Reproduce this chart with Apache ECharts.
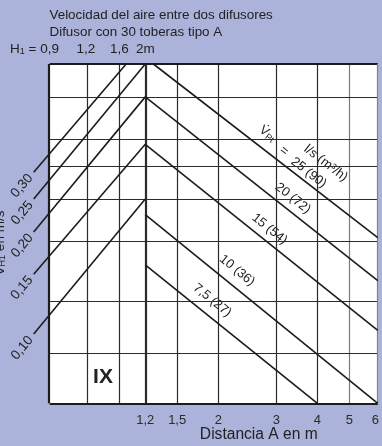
<!DOCTYPE html>
<html>
<head>
<meta charset="utf-8">
<script src="https://cdn.jsdelivr.net/npm/echarts@6/dist/echarts.min.js"></script>
<style>
  html, body { margin: 0; padding: 0; background: #abb3db; }
  #grafico { width: 382px; height: 446px; }
</style>
</head>
<body>
<div id="grafico"></div>
<script>
// Distancia A (m) en eje logarítmico: marcas rotuladas y líneas de rejilla
const distanciaMarcas = [1.2, 1.5, 2, 3, 4, 5, 6];
const distanciaRejilla = [0.8, 1.0, 1.2, 1.5, 2, 3, 4, 5];
// Velocidad vH1 (m/s) en eje logarítmico: líneas de rejilla
const velocidadRejilla = [0.07, 0.1, 0.15, 0.2, 0.25, 0.3, 0.4];

// Rectas ascendentes de velocidad: [A, v] inicial y final
const velocidadRotulos = ['0,30', '0,25', '0,20', '0,15', '0,10'];
const rectaV030 = [[0.55, 0.24], [1.05, 0.5]];
const rectaV025 = [[0.55, 0.20], [1.2, 0.5]];
const rectaV020 = [[0.55, 0.16], [1.2, 0.4]];
const rectaV015 = [[0.55, 0.12], [1.2, 0.29]];
const rectaV010 = [[0.55, 0.08], [1.2, 0.2]];

// Rectas descendentes de caudal por tobera V̇Pt: l/s (m³/h)
const caudalRotulos = ['25 (90)', '20 (72)', '15 (54)', '10 (36)', '7,5 (27)'];
const rectaQ25 = [[1.27, 0.5], [6.1, 0.154]];
const rectaQ20 = [[1.2, 0.4], [6.1, 0.115]];
const rectaQ15 = [[1.2, 0.29], [6.1, 0.082]];
const rectaQ10 = [[1.2, 0.18], [6.1, 0.05]];
const rectaQ75 = [[1.2, 0.128], [4.0, 0.05]];

const rectasV = [rectaV030, rectaV025, rectaV020, rectaV015, rectaV010];
const rectasQ = [rectaQ25, rectaQ20, rectaQ15, rectaQ10, rectaQ75];

const FUENTE = '"Liberation Sans", Arial, Helvetica, sans-serif';
const TINTA = '#1c1c1c';
// Ábaco: A de 0,615 a 6,1 m; v de 0,05 a 0,5 m/s. El eje X se prolonga a la
// izquierda para que las rectas de velocidad lleguen hasta sus rótulos.
const A_BORDE = 0.615, X_MIN = 0.5, X_MAX = 6.1, Y_MIN = 0.05, Y_MAX = 0.5;
const PX_DECADA = 332.8, BORDE_IZQ = 50, BORDE_DER = 381.5;
const gridLeft = BORDE_IZQ - PX_DECADA * Math.log10(A_BORDE / X_MIN);

const chart = echarts.init(document.getElementById('grafico'), null, { renderer: 'canvas' });

function recta(nombre, puntos) {
  return {
    type: 'line', name: nombre, data: puntos, symbol: 'none',
    clip: true, silent: true, animation: false, z: 5,
    lineStyle: { color: TINTA, width: 1.6 }
  };
}

const lineaRejilla = (ancho, color) => ({ color: color || '#2b2b2b', width: ancho, type: 'solid' });
const segmento = (a, b, estilo) => [{ coord: a, lineStyle: estilo }, { coord: b }];
const grosorVertical = a => (a === 1.2 ? 2.2 : 1.2);
const colorVertical = a => (a === 5 ? '#7a7a7a' : '#2b2b2b');

const rejilla = {
  type: 'line', name: 'rejilla', data: [], silent: true, z: 1, animation: false,
  markArea: {
    silent: true, itemStyle: { color: '#ffffff' },
    data: [[{ coord: [A_BORDE, Y_MIN] }, { coord: [X_MAX, Y_MAX] }]]
  },
  markLine: {
    symbol: 'none', silent: true, animation: false, label: { show: false },
    data: [
      ...distanciaRejilla.map(a => ({ xAxis: a, lineStyle: lineaRejilla(grosorVertical(a), colorVertical(a)) })),
      ...velocidadRejilla.map(v => segmento([A_BORDE, v], [X_MAX, v], lineaRejilla(1.2))),
      segmento([A_BORDE, Y_MAX], [X_MAX, Y_MAX], lineaRejilla(2.2, TINTA)),
      segmento([A_BORDE, Y_MIN], [X_MAX, Y_MIN], lineaRejilla(2.2, TINTA)),
      { xAxis: A_BORDE, lineStyle: lineaRejilla(2.2, TINTA) },
      { xAxis: X_MAX, lineStyle: lineaRejilla(1.2, '#808080') }
    ]
  }
};

chart.setOption({
  animation: false,
  backgroundColor: '#abb3db',
  grid: { left: gridLeft, top: 64, width: BORDE_DER - gridLeft, height: 339.3, show: false },
  xAxis: {
    type: 'log', min: X_MIN, max: X_MAX, logBase: 10,
    splitLine: { show: false }, axisTick: { show: false }, axisLine: { show: false },
    axisLabel: {
      customValues: distanciaMarcas, margin: 11, color: '#2a2a2a',
      fontFamily: FUENTE, fontSize: 13,
      formatter: v => String(+v.toFixed(2)).replace('.', ',')
    }
  },
  yAxis: {
    type: 'log', min: Y_MIN, max: Y_MAX, logBase: 10,
    splitLine: { show: false }, axisTick: { show: false }, axisLabel: { show: false },
    axisLine: { show: false }
  },
  series: [
    rejilla,
    ...rectasV.map((r, i) => recta('v ' + velocidadRotulos[i], r)),
    ...rectasQ.map((r, i) => recta('q ' + caudalRotulos[i], r))
  ]
});

// Rótulos: se colocan sobre las rectas dibujadas, a partir de sus píxeles
const px = p => chart.convertToPixel({ gridIndex: 0 }, p);
function puntoEnRecta(r, A) {
  const [[a0, v0], [a1, v1]] = r;
  const t = Math.log(A / a0) / Math.log(a1 / a0);
  return [A, v0 * Math.pow(v1 / v0, t)];
}

const graficos = [];
function texto(x, y, rot, contenido, tam, extra) {
  graficos.push({
    type: 'text', x: x, y: y, rotation: rot, z: 3, silent: true,
    style: Object.assign({
      text: contenido, fill: '#222', font: tam + 'px ' + FUENTE,
      align: 'center', verticalAlign: 'middle'
    }, extra || {})
  });
}

// Rótulos inclinados de las rectas de velocidad, en la prolongación de cada recta
rectasV.forEach((r, i) => {
  const p0 = px(r[0]), p1 = px(r[1]);
  const dx = p0[0] - p1[0], dy = p0[1] - p1[1];
  const L = Math.hypot(dx, dy);
  const ang = Math.atan2(-(p1[1] - p0[1]), p1[0] - p0[0]);
  texto(p0[0] + dx / L * 18, p0[1] + dy / L * 18, ang, velocidadRotulos[i], 13.5);
});

// Rótulos de caudal, paralelos a cada recta descendente
function rotuloCaudal(r, A, d, contenido, tam, extra) {
  const p0 = px(r[0]), p1 = px(r[1]);
  const ang = Math.atan2(p1[1] - p0[1], p1[0] - p0[0]);
  const p = px(puntoEnRecta(r, A));
  const nx = Math.sin(ang), ny = -Math.cos(ang);
  texto(p[0] + nx * d, p[1] + ny * d, -ang, contenido, tam, extra);
}
const fondo = { backgroundColor: '#fff', padding: [0, 1] };
const ubicacion = [[3.62, 9], [3.2, 12], [2.72, 11.5], [2.14, 14.5], [1.8, 14.3]];
rectasQ.forEach((r, i) => rotuloCaudal(r, ubicacion[i][0], ubicacion[i][1], caudalRotulos[i], 13, fondo));
rotuloCaudal(rectaQ25, 3.78, 27, 'l/s (m³/h)', 13, fondo);
rotuloCaudal(rectaQ25, 3.02, 11, '=', 13, fondo);
const sub = tam => ({
  v: { fontSize: tam, fontFamily: FUENTE, fill: '#222' },
  s: { fontSize: 9, fontFamily: FUENTE, fill: '#222', verticalAlign: 'bottom', padding: [5, 0, 0, 0] }
});
rotuloCaudal(rectaQ25, 2.65, 14.7, '{v|V̇}{s|Pt}', 13, Object.assign({ rich: sub(13) }, fondo));

// Títulos y rótulos fijos
const izq = { align: 'left', verticalAlign: 'middle' };
texto(49.5, 15, 0, 'Velocidad del aire entre dos difusores', 13.4, izq);
texto(49.5, 32, 0, 'Difusor con 30 toberas tipo A', 13.4, izq);
texto(10, 49, 0, '{v|H}{s|1}{v| = 0,9}', 13.5, Object.assign({ rich: sub(13.5) }, izq));
texto(76.5, 49, 0, '1,2', 13.5, izq);
texto(110, 49, 0, '1,6', 13.5, izq);
texto(136, 49, 0, '2m', 13.5, izq);
texto(103, 377.5, 0, 'IX', 21, { font: 'bold 21px ' + FUENTE });
texto(258.8, 434.5, 0, 'Distancia A en m', 15.6, {});
texto(0.5, 243, Math.PI / 2, '{v|V̇}{s|H1}{v| en m/s}', 13.5, { rich: sub(13.5) });

chart.setOption({ graphic: { elements: graficos } });
</script>
</body>
</html>
